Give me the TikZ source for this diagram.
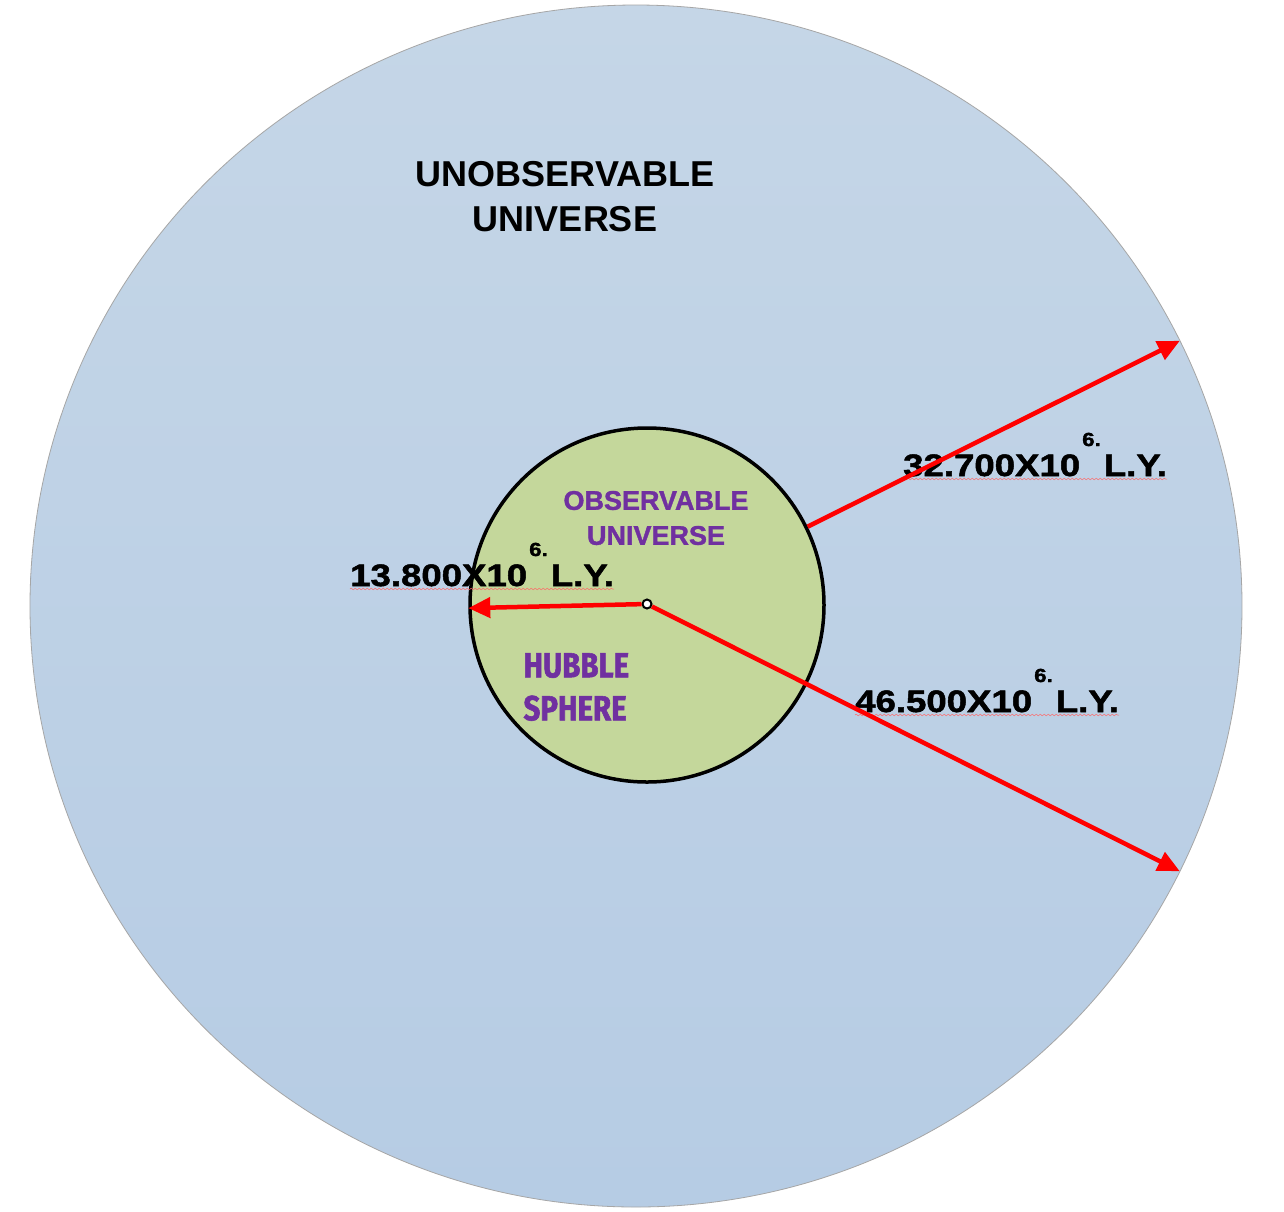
\documentclass[tikz,border=0pt]{standalone}
\usepackage{fontspec}
\setmainfont{Liberation Sans}
\newfontfamily\widefont{Liberation Sans}[FakeStretch=1.18,FakeBold=1.6]
\newfontfamily\heavyfont{Liberation Sans}[FakeBold=1.4]
\newfontfamily\hubfont{Fira Sans}[FakeStretch=0.84,FakeBold=1.6]
\usetikzlibrary{arrows.meta,shapes.geometric,decorations.pathmorphing}
\definecolor{skytop}{RGB}{197,214,231}
\definecolor{skybot}{RGB}{182,204,228}
\definecolor{hubgreen}{RGB}{196,215,155}
\definecolor{hubpurple}{RGB}{112,48,160}
\begin{document}
\begin{tikzpicture}[x=1pt,y=-1pt,
  redarrow/.style={draw=red, line width=4.5pt, -{Triangle[length=22pt,width=20pt]}},
  lylabel/.style={anchor=base west, inner sep=0pt, font=\widefont\bfseries\fontsize{31}{31}\selectfont},
  squig/.style={draw=red!60, line width=0.5pt, decorate, decoration={snake, amplitude=0.8pt, segment length=4pt}}]
\useasboundingbox[fill=white] (0,0) rectangle (1284,1211);
\node[ellipse, minimum width=1212pt, minimum height=1202pt, inner sep=0pt, outer sep=0pt,
  top color=skytop, bottom color=skybot, draw=gray!70, line width=0.8pt] (unobs) at (636,606) {};
\node[circle, minimum size=354pt, inner sep=0pt, fill=hubgreen, draw=black, line width=3.5pt] (hubble) at (647,605) {};
\node[align=center, font=\bfseries\fontsize{36}{45}\selectfont] (unobslbl) at (565,197) {UNOBSERVABLE\\UNIVERSE};
\node[align=center, text=hubpurple, font=\heavyfont\bfseries\fontsize{27}{35}\selectfont] (obslbl) at (656,518) {OBSERVABLE\\UNIVERSE};
\node[align=left, anchor=west, text=hubpurple, font=\hubfont\bfseries\fontsize{35}{43}\selectfont] (hublbl) at (520,687) {HUBBLE\\SPHERE};
\node[lylabel] (lyA) at (350,586) {13.800X10\hspace{2pt}\raisebox{30pt}{\fontsize{19}{19}\selectfont 6.}\hspace{3pt}L.Y.};
\node[lylabel] (lyB) at (903,476) {32.700X10\hspace{2pt}\raisebox{30pt}{\fontsize{19}{19}\selectfont 6.}\hspace{3pt}L.Y.};
\node[lylabel] (lyC) at (855,712) {46.500X10\hspace{2pt}\raisebox{30pt}{\fontsize{19}{19}\selectfont 6.}\hspace{3pt}L.Y.};
\draw[squig] ([yshift=-3pt]lyA.base west) -- ([yshift=-3pt]lyA.base east);
\draw[squig] ([yshift=-3pt]lyB.base west) -- ([yshift=-3pt]lyB.base east);
\draw[squig] ([yshift=-3pt]lyC.base west) -- ([yshift=-3pt]lyC.base east);
\node[circle, minimum size=9pt, inner sep=0pt, fill=white, draw=black, line width=2pt] (ctr) at (647,604) {};
\draw[redarrow] (ctr) -- (hubble.181);
\draw[redarrow] (hubble.26.5) -- (unobs.26.5);
\draw[redarrow] (ctr) -- (unobs.-26);
\end{tikzpicture}
\end{document}
